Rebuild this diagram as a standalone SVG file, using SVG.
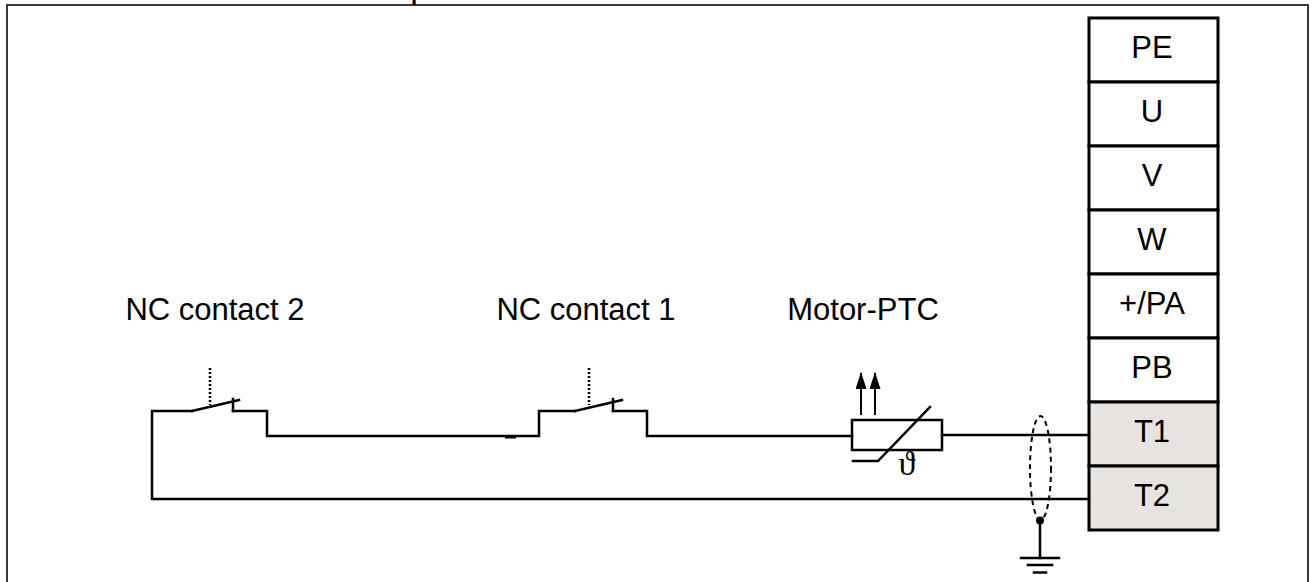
<svg xmlns="http://www.w3.org/2000/svg" width="1315" height="582" viewBox="0 0 1315 582">
<defs>
<style>
.t{font-family:"Liberation Sans",Arial,sans-serif;font-size:31px;fill:#000;}
.w{fill:none;stroke:#000;stroke-width:2.5;stroke-linecap:square;}
.cell{stroke:#000;stroke-width:3;}
.dot{fill:none;stroke:#000;stroke-width:2.5;stroke-dasharray:2,2;}
.arr{stroke:#000;stroke-width:2;}
</style>
<marker id="ah" viewBox="0 0 17 11" refX="16" refY="5.5" markerWidth="17" markerHeight="11" markerUnits="userSpaceOnUse" orient="auto">
<path d="M0,0 L17,5.5 L0,11 Z" fill="#000"/>
</marker>
</defs>
<rect width="1315" height="582" fill="#fff"/>
<rect x="7" y="5" width="1301" height="600" fill="none" stroke="#3a3a3a" stroke-width="2"/>
<text x="411" y="0" style="font-family:'Liberation Sans',Arial,sans-serif;font-size:22px;font-weight:bold">p</text>

<g id="terminal-block">
<rect class="cell" x="1089" y="18" width="129" height="64" fill="#fff"/>
<rect class="cell" x="1089" y="82" width="129" height="64" fill="#fff"/>
<rect class="cell" x="1089" y="146" width="129" height="64" fill="#fff"/>
<rect class="cell" x="1089" y="210" width="129" height="64" fill="#fff"/>
<rect class="cell" x="1089" y="274" width="129" height="64" fill="#fff"/>
<rect class="cell" x="1089" y="338" width="129" height="64" fill="#fff"/>
<rect class="cell" x="1089" y="402" width="129" height="64" fill="#e6e3e0"/>
<rect class="cell" x="1089" y="466" width="129" height="64" fill="#e6e3e0"/>
<text class="t" x="1152" y="58" text-anchor="middle">PE</text>
<text class="t" x="1152" y="122" text-anchor="middle">U</text>
<text class="t" x="1152" y="186" text-anchor="middle">V</text>
<text class="t" x="1152" y="250" text-anchor="middle">W</text>
<text class="t" x="1152" y="314" text-anchor="middle">+/PA</text>
<text class="t" x="1152" y="378" text-anchor="middle">PB</text>
<text class="t" x="1152" y="442" text-anchor="middle">T1</text>
<text class="t" x="1152" y="506" text-anchor="middle">T2</text>
</g>

<g id="nc-contact-2">
<text class="t" x="215" y="320" text-anchor="middle">NC contact 2</text>
<line class="dot" x1="210" y1="368" x2="210" y2="405"/>
<polyline class="w" points="192,411 239,400"/>
<line class="w" x1="233" y1="399" x2="233" y2="411"/>
</g>

<g id="nc-contact-1">
<text class="t" x="586" y="320" text-anchor="middle">NC contact 1</text>
<line class="dot" x1="589" y1="368" x2="589" y2="405"/>
<polyline class="w" points="575,411 622,400"/>
<line class="w" x1="613" y1="399" x2="613" y2="411"/>
</g>

<g id="motor-ptc">
<text class="t" x="863" y="320" text-anchor="middle">Motor-PTC</text>
<rect x="852" y="420" width="90" height="30" fill="#fff" stroke="#000" stroke-width="2.5"/>
<polyline class="w" points="853,461 878,461 930,407"/>
<line class="arr" x1="861" y1="415" x2="861" y2="373" marker-end="url(#ah)"/>
<line class="arr" x1="875" y1="415" x2="875" y2="373" marker-end="url(#ah)"/>
<text x="907" y="475" text-anchor="middle" style="font-family:'Liberation Serif','DejaVu Serif',serif;font-size:34px">ϑ</text>
</g>

<g id="shield-ground">
<ellipse cx="1040.5" cy="468" rx="10.5" ry="52" fill="none" stroke="#000" stroke-width="2" stroke-dasharray="5,4"/>
<circle cx="1040" cy="520.5" r="4" fill="#000"/>
<line class="w" x1="1040" y1="520" x2="1040" y2="558"/>
<line class="w" x1="1021" y1="558" x2="1059" y2="558"/>
<line class="w" x1="1028" y1="565" x2="1052" y2="565"/>
<line class="w" x1="1034" y1="572.5" x2="1046" y2="572.5"/>
</g>

<g id="connectors">
<polyline class="w" points="192,411 152,411 152,499 1089,499"/>
<polyline class="w" points="233,411 267,411 267,436 539,436 539,411 575,411"/>
<line x1="505" y1="437" x2="516" y2="437" stroke="#000" stroke-width="3"/>
<polyline class="w" points="613,411 647,411 647,436 852,436"/>
<line class="w" x1="942" y1="435" x2="1089" y2="435"/>
</g>
</svg>
